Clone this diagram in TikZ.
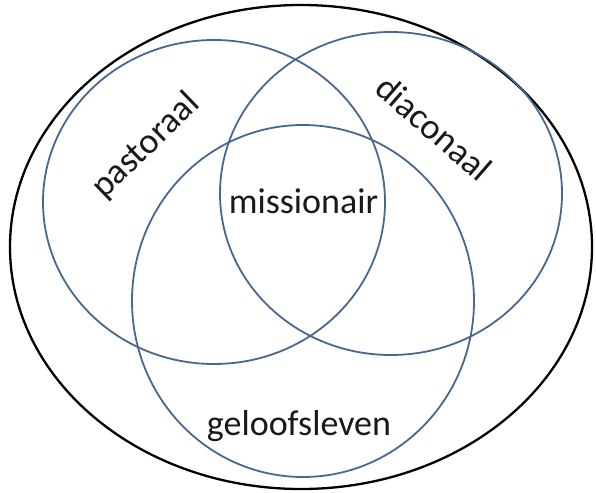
\documentclass[tikz,border=0pt]{standalone}
\usepackage{fontspec}
\setmainfont{Carlito}
\definecolor{vennblue}{RGB}{72,104,145}
\begin{document}
\begin{tikzpicture}[x=1pt,y=-1pt,
  outerline/.style={draw=black,line width=2.3pt},
  vennline/.style={draw=vennblue,line width=1.8pt},
  lbl/.style={font=\fontsize{36}{43}\selectfont,text=black!90,inner sep=0pt}]
\useasboundingbox (0,0) rectangle (596,492);
\fill[white] (0,0) rectangle (596,492);
\draw[outerline] (301,247) ellipse [x radius=291pt, y radius=242pt];
\draw[vennline] (214,202) ellipse [x radius=171pt, y radius=162pt];
\draw[vennline] (391,193.5) ellipse [x radius=171pt, y radius=161.5pt];
\draw[vennline] (303,301) ellipse [x radius=171pt, y radius=176pt];
\node[lbl,anchor=base] (mis) at (303.5,213) {missionair};
\node[lbl,anchor=base] (gel) at (299,435) {geloofsleven};
\node[lbl,rotate=44] (pas) at (146,146) {pastoraal};
\node[lbl,rotate=-41] (dia) at (434,128) {diaconaal};
\end{tikzpicture}
\end{document}
